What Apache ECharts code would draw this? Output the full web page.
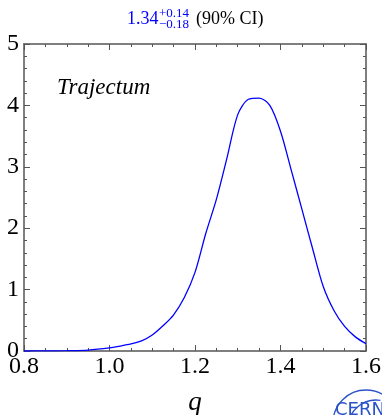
<!DOCTYPE html>
<html>
<head>
<meta charset="utf-8">
<script src="https://cdn.jsdelivr.net/npm/echarts@6/dist/echarts.min.js"></script>
<style>
html,body{margin:0;padding:0;background:#fff;}
#chart{width:382px;height:415px;}
</style>
</head>
<body>
<div id="chart"></div>
<script>
// ---- data ----
const qValues = [0.80, 0.85, 0.90, 0.95, 1.00, 1.025, 1.05, 1.075, 1.10, 1.125, 1.15, 1.175, 1.20, 1.225, 1.25, 1.275, 1.30, 1.325, 1.35, 1.375, 1.40, 1.425, 1.45, 1.475, 1.50, 1.525, 1.55, 1.575, 1.60];
const density = [0.00, 0.002, 0.006, 0.015, 0.05, 0.08, 0.115, 0.165, 0.26, 0.41, 0.59, 0.87, 1.28, 1.91, 2.47, 3.15, 3.85, 4.10, 4.12, 4.00, 3.58, 2.95, 2.31, 1.67, 1.05, 0.66, 0.40, 0.23, 0.12];
const xTicks = [0.8, 1.0, 1.2, 1.4, 1.6];
const yTicks = [0, 1, 2, 3, 4, 5];
const modelName = 'Trajectum';
const xName = 'q';
const titleMain = '1.34';
const titleUp = '+0.14';
const titleDown = '\u22120.18';
const titleRest = '(90% CI)';

const serif = '"Liberation Serif", "DejaVu Serif", serif';
const axisColor = '#555555';
const blue = '#0000ff';
const logoBlue = '#2a52c9';

const chart = echarts.init(document.getElementById('chart'), null, {renderer: 'canvas'});

const commonX = {
  type: 'value', min: 0.8, max: 1.6, interval: 0.2,
  axisLine: {show: true, onZero: false, lineStyle: {color: axisColor, width: 1.5}},
  axisTick: {show: true, inside: true, length: 6, lineStyle: {color: axisColor, width: 1}},
  minorTick: {show: true, splitNumber: 4, length: 3, lineStyle: {color: axisColor, width: 1}},
  splitLine: {show: false}
};
const commonY = {
  type: 'value', min: 0, max: 5, interval: 1,
  axisLine: {show: true, onZero: false, lineStyle: {color: axisColor, width: 1.5}},
  axisTick: {show: true, inside: true, length: 6, lineStyle: {color: axisColor, width: 1}},
  minorTick: {show: true, splitNumber: 5, length: 3, lineStyle: {color: axisColor, width: 1}},
  splitLine: {show: false}
};

const option = {
  animation: false,
  backgroundColor: '#fff',
  grid: {left: 24, right: 16, top: 44, bottom: 64, containLabel: false, outerBoundsMode: 'none'},
  xAxis: [
    Object.assign({}, commonX, {
      position: 'bottom',
      axisLabel: {show: true, margin: 4, fontFamily: serif, fontSize: 24, color: '#000',
        formatter: v => xTicks.includes(Math.round(v*10)/10) ? v.toFixed(1) : ''},
      name: xName, nameLocation: 'middle', nameGap: 38,
      nameTextStyle: {fontFamily: serif, fontStyle: 'italic', fontSize: 27, color: '#000'}
    }),
    Object.assign({}, commonX, {position: 'top', axisLabel: {show: false}})
  ],
  yAxis: [
    Object.assign({}, commonY, {
      position: 'left',
      axisLabel: {show: true, margin: 5, fontFamily: serif, fontSize: 24, color: '#000',
        formatter: v => yTicks.includes(v) ? String(v) : ''}
    }),
    Object.assign({}, commonY, {position: 'right', axisLabel: {show: false}})
  ],
  series: [{
    type: 'line',
    xAxisIndex: 0, yAxisIndex: 0,
    data: qValues.map((q, i) => [q, density[i]]),
    smooth: 0.3,
    showSymbol: false,
    clip: true,
    lineStyle: {color: blue, width: 1.3},
    z: 1
  }],
  graphic: [
    {type: 'text', left: 57, top: 76, style: {text: modelName, font: 'italic 23px ' + serif, fill: '#000'}},
    {type: 'text', x: 127, y: 19, style: {text: titleMain, font: '18px ' + serif, fill: blue, verticalAlign: 'middle'}},
    {type: 'text', x: 159, y: 14, style: {text: titleUp, font: '13px ' + serif, fill: blue, verticalAlign: 'middle'}},
    {type: 'text', x: 159, y: 25, style: {text: titleDown, font: '13px ' + serif, fill: blue, verticalAlign: 'middle'}},
    {type: 'text', x: 196, y: 19, style: {text: titleRest, font: '18px ' + serif, fill: '#000', verticalAlign: 'middle'}},
    // CERN logo (partially visible in the corner)
    {type: 'circle', shape: {cx: 366, cy: 423, r: 33}, style: {fill: 'none', stroke: logoBlue, lineWidth: 1.3}},
    {type: 'arc', shape: {cx: 376, cy: 428, r: 28, startAngle: Math.PI * 1.02, endAngle: Math.PI * 1.55}, style: {fill: 'none', stroke: logoBlue, lineWidth: 1.3}},
    {type: 'text', x: 335, y: 401, style: {text: 'CERN', font: '18px "DejaVu Sans", sans-serif', fill: logoBlue}}
  ]
};
chart.setOption(option);
</script>
</body>
</html>
